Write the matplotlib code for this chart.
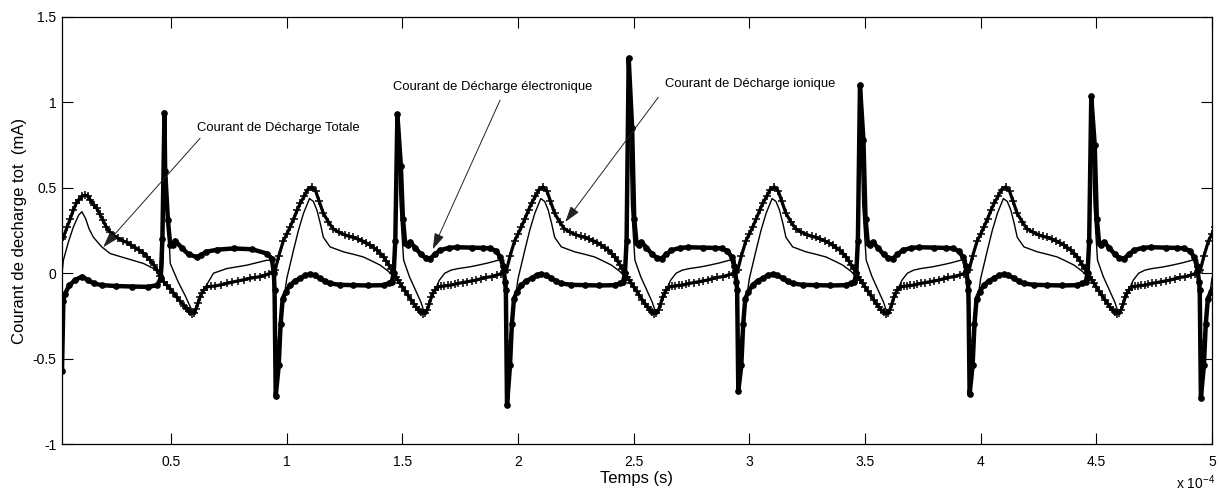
import numpy as np
import matplotlib.pyplot as plt

plt.rcParams['font.family'] = ['Liberation Sans', 'DejaVu Sans']
plt.rcParams['mathtext.default'] = 'regular'

# time in units of 1e-4 s, current in mA

# start-up segment (0.028 -> 0.945)
t_ion0 = [0.030, 0.034, 0.050, 0.064, 0.077, 0.090, 0.100, 0.114, 0.128, 0.140, 0.150, 0.165,
          0.178, 0.192, 0.205, 0.220, 0.236, 0.252, 0.270, 0.290, 0.308, 0.326, 0.345, 0.362,
          0.380, 0.395, 0.410, 0.425, 0.438, 0.452, 0.467, 0.481, 0.495, 0.510, 0.524, 0.540,
          0.555, 0.566, 0.575, 0.582, 0.589, 0.598, 0.607, 0.616, 0.625, 0.633, 0.640, 0.654,
          0.672, 0.690, 0.715, 0.740, 0.765, 0.790, 0.815, 0.840, 0.862, 0.885, 0.905, 0.925, 0.942]
v_ion0 = [0.20, 0.21, 0.27, 0.32, 0.37, 0.41, 0.43, 0.45, 0.457, 0.45, 0.43, 0.40,
          0.38, 0.345, 0.31, 0.27, 0.24, 0.22, 0.205, 0.19, 0.18, 0.165, 0.15, 0.135,
          0.117, 0.097, 0.075, 0.048, 0.018, -0.015, -0.05, -0.07, -0.09, -0.115, -0.14, -0.165,
          -0.19, -0.205, -0.22, -0.23, -0.236, -0.232, -0.21, -0.175, -0.14, -0.115, -0.10, -0.08,
          -0.077, -0.075, -0.068, -0.06, -0.052, -0.045, -0.038, -0.03, -0.025, -0.02, -0.012, -0.002, 0.008]

t_ele0 = [0.028, 0.034, 0.041, 0.060, 0.085, 0.114, 0.140, 0.165, 0.200, 0.260, 0.330, 0.400,
          0.440, 0.455, 0.462, 0.471, 0.474, 0.486, 0.496, 0.508, 0.517, 0.545, 0.575, 0.611,
          0.630, 0.650, 0.700, 0.770, 0.850, 0.914, 0.935, 0.944]
v_ele0 = [-0.57, -0.16, -0.12, -0.07, -0.04, -0.02, -0.04, -0.06, -0.07, -0.075, -0.078, -0.08,
          -0.07, -0.03, 0.20, 0.94, 0.60, 0.31, 0.164, 0.165, 0.19, 0.15, 0.11, 0.095,
          0.105, 0.125, 0.138, 0.145, 0.14, 0.115, 0.086, 0.00]

t_tot0 = [0.028, 0.034, 0.055, 0.077, 0.100, 0.114, 0.130, 0.145, 0.164, 0.200, 0.236, 0.308,
          0.380, 0.438, 0.460, 0.466, 0.470, 0.484, 0.496, 0.530, 0.560, 0.596, 0.610, 0.640,
          0.683, 0.740, 0.827, 0.914, 0.940]
v_tot0 = [0.00, 0.076, 0.18, 0.27, 0.34, 0.36, 0.32, 0.26, 0.21, 0.154, 0.115, 0.086,
          0.057, 0.018, -0.03, 0.10, 0.90, 0.40, 0.057, -0.05, -0.13, -0.236, -0.20, -0.10,
          0.00, 0.027, 0.047, 0.076, 0.075]

# one steady period (0.945 -> 1.945), repeated every 1e-4 s
t_ion = [0.950, 0.965, 0.985, 1.000, 1.014, 1.030, 1.045, 1.058, 1.075, 1.090, 1.108, 1.125,
         1.140, 1.158, 1.180, 1.200, 1.225, 1.250, 1.270, 1.288, 1.307, 1.325, 1.343, 1.360,
         1.375, 1.390, 1.405, 1.418, 1.430, 1.440, 1.451, 1.461, 1.470, 1.480, 1.490, 1.500,
         1.512, 1.524, 1.537, 1.550, 1.560, 1.570, 1.580, 1.589, 1.598, 1.607, 1.616, 1.625,
         1.633, 1.640, 1.654, 1.667, 1.680, 1.695, 1.710, 1.725, 1.740, 1.760, 1.780, 1.800,
         1.820, 1.840, 1.860, 1.885, 1.910, 1.928, 1.942]
v_ion = [0.02, 0.10, 0.19, 0.23, 0.27, 0.32, 0.37, 0.41, 0.45, 0.49, 0.505, 0.48,
         0.42, 0.35, 0.30, 0.26, 0.24, 0.225, 0.215, 0.21, 0.20, 0.19, 0.178, 0.164,
         0.15, 0.135, 0.115, 0.095, 0.07, 0.05, 0.025, 0.00, -0.02, -0.04, -0.06, -0.08,
         -0.105, -0.13, -0.155, -0.18, -0.20, -0.215, -0.228, -0.236, -0.232, -0.215, -0.18, -0.14,
         -0.115, -0.10, -0.08, -0.077, -0.075, -0.072, -0.07, -0.065, -0.06, -0.055, -0.05, -0.045,
         -0.04, -0.032, -0.025, -0.02, -0.01, -0.002, 0.008]

t_ele = [0.947, 0.952, 0.965, 0.973, 0.982, 0.995, 1.014, 1.035, 1.058, 1.080, 1.100, 1.120,
         1.144, 1.165, 1.187, 1.230, 1.288, 1.350, 1.418, 1.440, 1.454, 1.462, 1.469, 1.478,
         1.493, 1.502, 1.512, 1.522, 1.533, 1.555, 1.580, 1.600, 1.620, 1.640, 1.663, 1.700,
         1.735, 1.800, 1.850, 1.880, 1.905, 1.923, 1.935, 1.944]
v_ele = [-0.10, 'neg', -0.54, -0.30, -0.15, -0.11, -0.07, -0.045, -0.03, -0.012, -0.006, -0.012,
         -0.03, -0.048, -0.06, -0.068, -0.07, -0.072, -0.07, -0.06, -0.05, 0.00, 0.19, 'pos',
         'pos2', 0.32, 0.174, 0.165, 0.183, 0.15, 0.11, 0.09, 0.086, 0.11, 0.135, 0.148,
         0.152, 0.15, 0.148, 0.145, 0.13, 0.095, 0.04, -0.05]

t_tot = [0.948, 0.962, 0.980, 1.000, 1.029, 1.050, 1.072, 1.098, 1.115, 1.130, 1.145, 1.158,
         1.187, 1.245, 1.290, 1.331, 1.370, 1.404, 1.440, 1.461, 1.466, 1.476, 1.490, 1.505,
         1.530, 1.560, 1.580, 1.596, 1.610, 1.640, 1.660, 1.683, 1.710, 1.740, 1.790, 1.827,
         1.870, 1.914, 1.938]
v_tot = [-0.40, -0.40, -0.22, -0.03, 0.135, 0.25, 0.35, 0.437, 0.42, 0.37, 0.29, 0.21,
         0.154, 0.125, 0.11, 0.095, 0.07, 0.047, 0.01, -0.02, 0.10, 'pos', 0.40, 0.076,
         -0.02, -0.11, -0.17, -0.236, -0.20, -0.10, -0.04, 0.00, 0.018, 0.027, 0.037, 0.047,
         0.06, 0.076, 0.078]

# spike values for each period
neg_peak = [-0.72, -0.773, -0.69, -0.71, -0.73]
pos_peak = [0.93, 1.26, 1.10, 1.035]
pos_second = [0.63, 0.85, 0.78, 0.75]


def periodic(t_base, v_base):
    ts, vs = [], []
    for k in range(5):
        for p, v in zip(t_base, v_base):
            t = p + k
            if t > 5.06:
                break
            if v == 'neg':
                v = neg_peak[k]
            elif v == 'pos':
                v = pos_peak[k]
            elif v == 'pos2':
                v = pos_second[k]
            ts.append(t)
            vs.append(v)
    return ts, vs


ti, vi = periodic(t_ion, v_ion)
te, ve = periodic(t_ele, v_ele)
tt, vt = periodic(t_tot, v_tot)
ti, vi = t_ion0 + ti, v_ion0 + vi
te, ve = t_ele0 + te, v_ele0 + ve
tt, vt = t_tot0 + tt, v_tot0 + vt

fig = plt.figure(figsize=(12.19, 4.90), dpi=100)
ax = fig.add_axes([62/1219, 1-444/490, 1150/1219, 427/490])

ax.plot(tt, vt, color='k', lw=1.0)
ax.plot(ti, vi, color='k', lw=2.3, marker='+', ms=5.5, mew=1.1)
ax.plot(te, ve, color='k', lw=3.2, marker='o', ms=3.8)

arrow = dict(arrowstyle='-|>,head_length=0.7,head_width=0.22', color='#222222',
             lw=0.7, shrinkA=0, shrinkB=0, mutation_scale=14)
ax.annotate('', xy=(0.206, 0.152), xytext=(0.625, 0.79), arrowprops=arrow)
ax.annotate('', xy=(1.631, 0.14), xytext=(1.922, 1.013), arrowprops=arrow)
ax.annotate('', xy=(2.204, 0.30), xytext=(2.606, 1.03), arrowprops=arrow)
ax.text(0.612, 0.85, 'Courant de Décharge Totale', fontsize=9.4, va='center')
ax.text(1.46, 1.09, 'Courant de Décharge électronique', fontsize=9.4, va='center')
ax.text(2.636, 1.11, 'Courant de Décharge ionique', fontsize=9.4, va='center')

ax.set_xlim(0.028, 5.0)
ax.set_ylim(-1, 1.5)
ax.set_xticks([0.5, 1, 1.5, 2, 2.5, 3, 3.5, 4, 4.5, 5])
ax.set_xticklabels(['0.5', '1', '1.5', '2', '2.5', '3', '3.5', '4', '4.5', '5'])
ax.set_yticks([-1, -0.5, 0, 0.5, 1, 1.5])
ax.set_yticklabels(['-1', '-0.5', '0', '0.5', '1', '1.5'])
ax.tick_params(direction='in', length=8, width=0.8, top=True, right=True, labelsize=10)
ax.tick_params(axis='x', pad=8)
ax.tick_params(axis='y', pad=4)
for s in ax.spines.values():
    s.set_linewidth(0.9)

ax.set_xlabel('Temps (s)', fontsize=12, labelpad=1)
ax.set_ylabel('Courant de decharge tot  (mA)', fontsize=12, labelpad=4)
fig.text(1176/1219, 1-483/490, 'x 10$^{-4}$', fontsize=10, va='center')

fig.savefig('out.png', dpi=100)
